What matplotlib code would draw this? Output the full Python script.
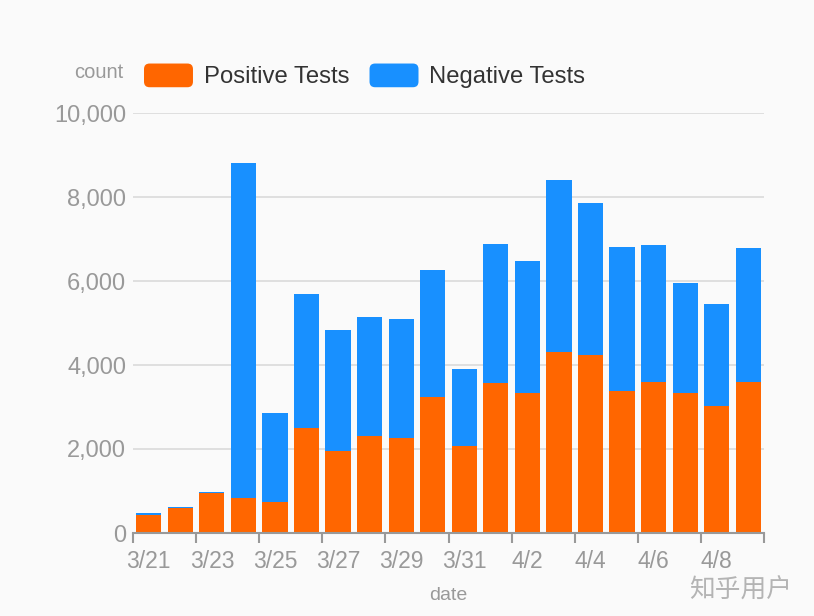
import numpy as np
import matplotlib
matplotlib.use("Agg")
import matplotlib.pyplot as plt
from matplotlib.patches import Rectangle, FancyBboxPatch
from matplotlib.legend_handler import HandlerPatch
from matplotlib.ticker import FuncFormatter, FixedLocator

plt.rcParams['font.family'] = ['Liberation Sans', 'Noto Sans CJK SC', 'DejaVu Sans']

dates = ['3/21', '3/22', '3/23', '3/24', '3/25', '3/26', '3/27', '3/28', '3/29', '3/30',
         '3/31', '4/1', '4/2', '4/3', '4/4', '4/5', '4/6', '4/7', '4/8', '4/9']
positive = [430, 595, 945, 840, 740, 2490, 1950, 2310, 2270, 3250,
            2070, 3560, 3330, 4310, 4230, 3390, 3590, 3325, 3025, 3590]
total = [475, 625, 975, 8800, 2850, 5690, 4835, 5145, 5090, 6255,
         3915, 6875, 6475, 8395, 7850, 6810, 6865, 5945, 5445, 6780]
negative = [t - p for t, p in zip(total, positive)]

c_pos = '#ff6600'
c_neg = '#1890ff'
bg = '#fafafa'
grey = '#999999'


class RoundHandler(HandlerPatch):
    def create_artists(self, legend, orig_handle, xdescent, ydescent,
                       width, height, fontsize, trans):
        p = FancyBboxPatch((-xdescent, -ydescent), width, height,
                           boxstyle='round,pad=0,rounding_size=4',
                           fc=orig_handle.get_facecolor(), ec='none',
                           transform=trans)
        return [p]


fig = plt.figure(figsize=(8.14, 6.16), dpi=100, facecolor=bg)
ax = fig.add_axes([133 / 814, 1 - 533 / 616, 631 / 814, 420 / 616])
ax.set_facecolor(bg)

x = np.arange(len(dates))
ax.bar(x, positive, width=0.8, color=c_pos, zorder=3)
ax.bar(x, negative, width=0.8, bottom=positive, color=c_neg, zorder=3)

ax.set_xlim(-0.5, len(dates) - 0.5)
ax.set_ylim(0, 10000)

# y axis
ax.set_yticks(np.arange(0, 10001, 2000))
ax.yaxis.set_major_formatter(FuncFormatter(lambda v, p: f'{int(v):,}'))
ax.tick_params(axis='y', length=0, pad=5, labelsize=17, labelcolor=grey)
ax.grid(axis='y', color='#dddddd', linewidth=1.3, zorder=0)

# x axis: tick marks at band edges, labels at band centres
ax.xaxis.set_major_locator(FixedLocator(np.arange(-0.5, len(dates), 2)))
ax.xaxis.set_major_formatter(FuncFormatter(lambda v, p: ''))
ax.xaxis.set_minor_locator(FixedLocator(x[::2]))
ax.set_xticklabels(dates[::2], minor=True)
ax.tick_params(axis='x', which='major', length=7, width=1.5, color=grey)
ax.tick_params(axis='x', which='minor', length=0, pad=12, labelsize=16.5, labelcolor=grey)

for s in ['top', 'right', 'left']:
    ax.spines[s].set_visible(False)
ax.spines['bottom'].set_color(grey)
ax.spines['bottom'].set_linewidth(1.5)
ax.spines['bottom'].set_zorder(4)

fig.text(123 / 814, 1 - 72 / 616, 'count', ha='right', va='center', fontsize=14.5, color=grey)
ax.set_xlabel('date', fontsize=14, color=grey, labelpad=10)

handles = [Rectangle((0, 0), 1, 1, fc=c_pos), Rectangle((0, 0), 1, 1, fc=c_neg)]
ax.legend(handles, ['Positive Tests', 'Negative Tests'], ncol=2, frameon=False,
          loc='center left', bbox_to_anchor=(144 / 814, 1 - 76 / 616),
          bbox_transform=fig.transFigure, borderaxespad=0, borderpad=0,
          fontsize=17.2, labelcolor='#333333', handlelength=2.05, handleheight=1.15,
          handletextpad=0.45, columnspacing=0.85,
          handler_map={Rectangle: RoundHandler()})

fig.text(741 / 814, 1 - 591 / 616, '知乎用户', ha='center', va='center',
         fontsize=18.5, color='#b4b4b4', family=['Noto Sans CJK SC', 'DejaVu Sans'])

fig.savefig('out.png', dpi=100, facecolor=bg)
